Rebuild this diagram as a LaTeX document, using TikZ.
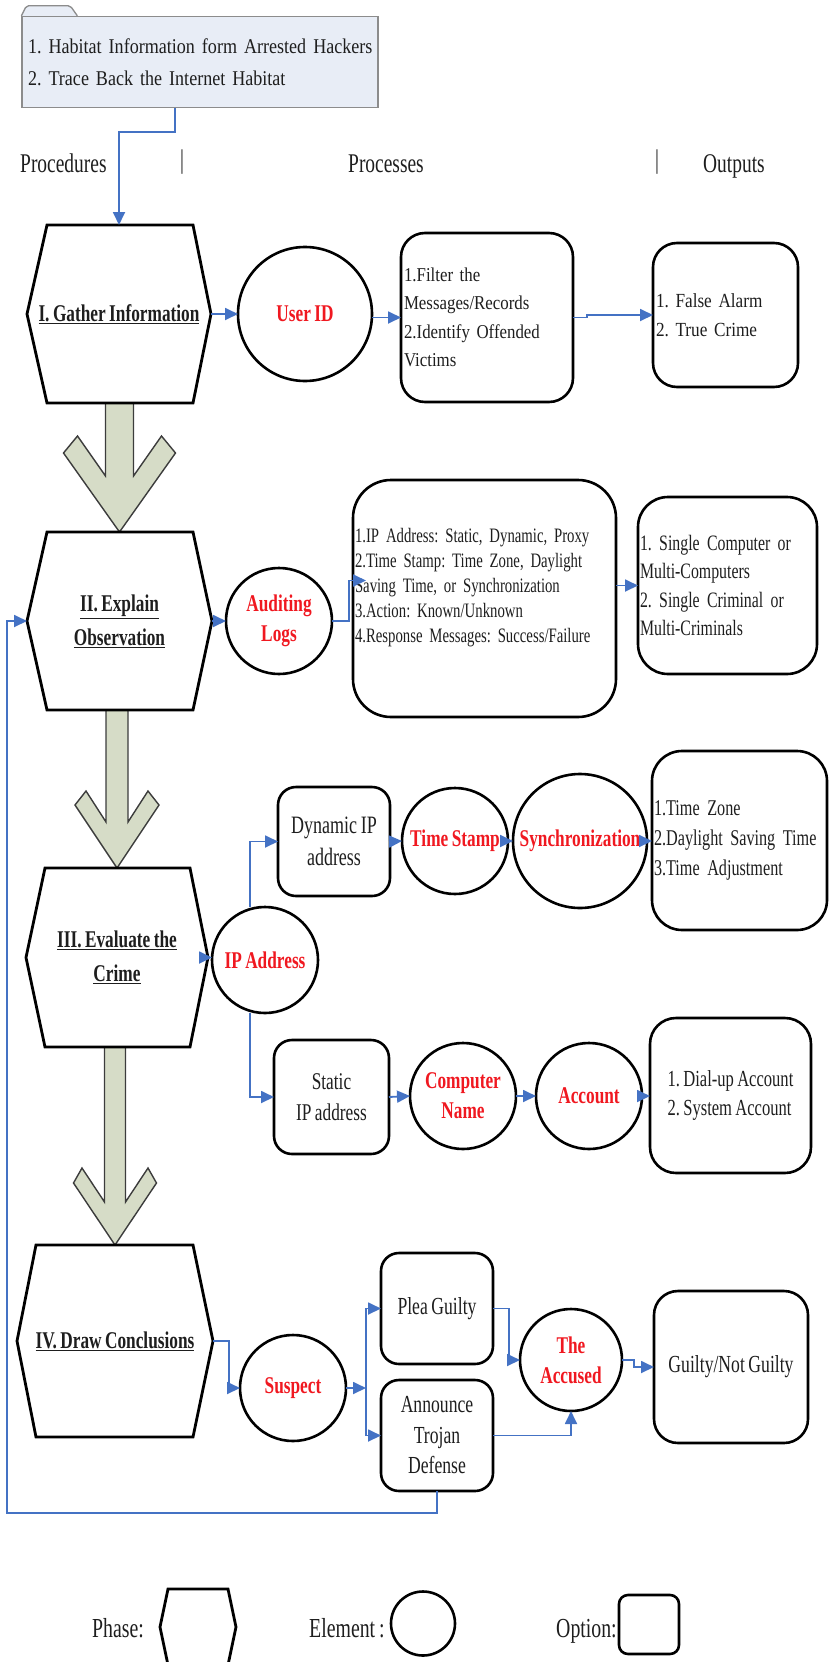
\documentclass[tikz,border=0pt]{standalone}
\usepackage{fontspec}
\setmainfont[FakeStretch=0.72,WordSpace=0.8]{Liberation Serif}
\newfontfamily\widefont[FakeStretch=0.86,WordSpace=0.85]{Liberation Serif}
\usetikzlibrary{arrows.meta,calc,backgrounds}

\definecolor{linkblue}{RGB}{68,114,196}
\definecolor{arrowfill}{RGB}{214,220,199}
\definecolor{arrowedge}{RGB}{60,60,60}
\definecolor{folderfill}{RGB}{232,237,246}
\definecolor{folderedge}{RGB}{140,140,140}
\definecolor{elemred}{RGB}{240,24,32}
\definecolor{inktext}{RGB}{30,30,30}

\newcommand\setfs[2]{\fontsize{#1}{#2}\selectfont}
% hexagonal phase outline around a (borderless) node
\newcommand\phasehex[3]{%
  \draw[phaseline] ([xshift=#2]#1.north west) -- ([xshift=-#3]#1.north east)
    -- (#1.east) -- ([xshift=-#3]#1.south east) -- ([xshift=#2]#1.south west)
    -- (#1.west) -- cycle;}

\tikzset{
  conn/.style={draw=linkblue, line width=1.8pt, -{Triangle[length=13pt,width=12pt]}},
  phasenode/.style={draw=none, inner sep=0pt, outer sep=0pt, align=center,
    text=inktext, font=\bfseries\setfs{24}{34}},
  phaseline/.style={draw=black, line width=2.8pt, fill=white, line join=miter},
  elemnode/.style={circle, draw=black, line width=2.6pt, inner sep=0pt, outer sep=0pt,
    align=center, text=elemred, font=\bfseries\setfs{24}{30}},
  optbox/.style={rectangle, draw=black, line width=2.6pt, inner sep=0pt, outer sep=0pt,
    text=inktext},
  blockarrow/.style={fill=arrowfill, draw=arrowedge, line width=1.4pt, line join=miter},
  header/.style={anchor=base west, inner sep=0pt, text=inktext, font=\setfs{27}{30}},
  legendtext/.style={anchor=base west, inner sep=0pt, text=inktext, font=\setfs{27.5}{30}},
}

\begin{document}
\frenchspacing
\begin{tikzpicture}[x=1pt,y=-1pt]
\useasboundingbox (0,0) rectangle (828,1662);

% ---- source note (folder) ----
\node[draw=folderedge, fill=folderfill, line width=1.3pt, minimum width=356pt,
  minimum height=91pt, text width=350pt, align=left, inner sep=0pt, text=inktext,
  font=\widefont\setfs{21}{32}] (folder) at (200,62)
  {\hspace*{3pt}1. Habitat Information form Arrested Hackers\\\hspace*{3pt}2. Trace Back the Internet Habitat};

% ---- column headers ----
\node[header] (hproc) at (20,172) {Procedures};
\node[header] (hbar1) at (180,168) {|};
\node[header] (hprocs) at (348,172) {Processes};
\node[header] (hbar2) at (655,168) {|};
\node[header] (hout) at (703,172) {Outputs};

% ---- phases ----
\node[phasenode, minimum width=184pt, minimum height=178pt] (h1) at (119,314)
  {\underline{I. Gather Information}};
\node[phasenode, minimum width=185pt, minimum height=178pt] (h2) at (119.5,621)
  {\underline{II. Explain}\\\underline{Observation}};
\node[phasenode, minimum width=182pt, minimum height=179pt] (h3) at (117,957.5)
  {\underline{III. Evaluate the}\\\underline{Crime}};
\node[phasenode, minimum width=196pt, minimum height=192pt, text depth=2pt] (h4) at (115,1341)
  {\underline{IV. Draw Conclusions}};

% ---- elements ----
\node[elemnode, minimum size=134pt] (uid) at (305,314) {User ID};
\node[elemnode, minimum size=106pt] (al) at (279,621) {Auditing\\Logs};
\node[elemnode, minimum size=106pt] (ip) at (265,960) {IP Address};
\node[elemnode, minimum size=106pt] (ts) at (455,841) {Time Stamp};
\node[elemnode, minimum size=134pt] (sync) at (580,841) {Synchronization};
\node[elemnode, minimum size=106pt] (cn) at (463,1096) {Computer\\Name};
\node[elemnode, minimum size=106pt] (acct) at (589,1096) {Account};
\node[elemnode, minimum size=106pt] (sus) at (293,1388) {Suspect};
\node[elemnode, minimum size=102pt] (accd) at (571,1360) {The\\Accused};

% ---- options ----
\node[optbox, rounded corners=24pt, minimum width=172pt, minimum height=169pt,
  text width=166pt, align=left, font=\widefont\setfs{19.6}{28.5}] (filt) at (487,317.5)
  {1.Filter the\\Messages/Records\\2.Identify Offended\\Victims};
\node[optbox, rounded corners=24pt, minimum width=145pt, minimum height=144pt,
  text width=139pt, align=left, font=\widefont\setfs{20}{29}] (alarm) at (725.5,315)
  {1. False Alarm\\2. True Crime};
\node[optbox, rounded corners=38pt, minimum width=263pt, minimum height=237pt,
  text width=259pt, text depth=127pt, align=left, font=\setfs{20.5}{25.2}] (logbox) at (484.5,598.5)
  {1.IP Address: Static, Dynamic, Proxy\\2.Time Stamp: Time Zone, Daylight\\Saving Time, or Synchronization\\3.Action: Known/Unknown\\4.Response Messages: Success/Failure};
\node[optbox, rounded corners=30pt, minimum width=179pt, minimum height=177pt,
  text width=175pt, align=left, font=\setfs{22}{28.5}] (multi) at (727.5,585.5)
  {1. Single Computer or\\Multi-Computers\\2. Single Criminal or\\Multi-Criminals};
\node[optbox, rounded corners=18pt, minimum width=112pt, minimum height=109pt,
  align=center, font=\setfs{25}{32}] (dyn) at (334,841.5) {Dynamic IP\\address};
\node[optbox, rounded corners=30pt, minimum width=175pt, minimum height=179pt,
  text width=171pt, align=left, font=\setfs{22.5}{30}] (tz) at (739.5,840.5)
  {1.Time Zone\\2.Daylight Saving Time\\3.Time Adjustment};
\node[optbox, rounded corners=18pt, minimum width=115pt, minimum height=114pt,
  align=center, font=\setfs{24}{31}] (stat) at (331.5,1097) {Static\\IP address};
\node[optbox, rounded corners=26pt, minimum width=161pt, minimum height=155pt,
  align=left, font=\setfs{23}{29}] (dial) at (730.5,1095.5)
  {1. Dial-up Account\\2. System Account};
\node[optbox, rounded corners=18pt, minimum width=112pt, minimum height=111pt,
  align=center, font=\setfs{24.5}{30.5}] (plea) at (437,1308.5) {Plea Guilty};
\node[optbox, rounded corners=18pt, minimum width=112pt, minimum height=111pt,
  align=center, font=\setfs{24.5}{30.5}] (ann) at (437,1435.5) {Announce\\Trojan\\Defense};
\node[optbox, rounded corners=24pt, minimum width=154pt, minimum height=152pt,
  align=center, font=\setfs{24.5}{30}] (guilty) at (731,1367) {Guilty/Not Guilty};

% ---- legend ----
\node[legendtext] (lphase) at (92,1637) {Phase:};
\node[phasenode, minimum width=76pt, minimum height=76pt] (lhex) at (198,1627) {};
\node[legendtext] (lelem) at (309,1637) {Element :};
\node[elemnode, minimum size=64pt] (lcirc) at (423,1623.5) {};
\node[legendtext] (lopt) at (556,1637) {Option:};
\node[optbox, rounded corners=9pt, minimum width=60pt, minimum height=59pt] (lbox) at (649,1624.5) {};

% ---- outlines and block arrows behind the labels ----
\begin{scope}[on background layer]
  \draw[draw=folderedge, fill=folderfill, line width=1.3pt, rounded corners=2pt]
    (folder.north west) -- ++(5pt,10pt) -- ++(44pt,0pt) -- ++(7pt,-10pt);
  \draw[blockarrow] let \p1=(h1.south), \p2=(h2.north) in
    (\x2-14pt,\y1+3pt) -- (\x2-14pt,\y2+56pt) -- (\x2-42pt,\y2+96pt) -- (\x2-56pt,\y2+79pt)
    -- (\x2,\y2) -- (\x2+56pt,\y2+79pt) -- (\x2+42pt,\y2+96pt) -- (\x2+14pt,\y2+56pt)
    -- (\x2+14pt,\y1+3pt) -- cycle;
  \draw[blockarrow] let \p1=(h2.south), \p2=(h3.north) in
    (\x2-11pt,\y1+3pt) -- (\x2-11pt,\y2+46pt) -- (\x2-31pt,\y2+77pt) -- (\x2-42pt,\y2+63pt)
    -- (\x2,\y2) -- (\x2+42pt,\y2+63pt) -- (\x2+31pt,\y2+77pt) -- (\x2+11pt,\y2+46pt)
    -- (\x2+11pt,\y1+3pt) -- cycle;
  \draw[blockarrow] let \p1=(h3.south), \p2=(h4.north) in
    (\x2-10.5pt,\y1+3pt) -- (\x2-10.5pt,\y2+43pt) -- (\x2-33pt,\y2+77pt) -- (\x2-41.5pt,\y2+62pt)
    -- (\x2,\y2) -- (\x2+41.5pt,\y2+62pt) -- (\x2+33pt,\y2+77pt) -- (\x2+10.5pt,\y2+43pt)
    -- (\x2+10.5pt,\y1+3pt) -- cycle;
  \phasehex{h1}{20pt}{18pt}
  \phasehex{h2}{20pt}{19pt}
  \phasehex{h3}{19pt}{18pt}
  \phasehex{h4}{19pt}{20pt}
  \phasehex{lhex}{8pt}{8pt}
\end{scope}

% ---- connectors ----
\draw[conn] ([xshift=-25pt]folder.south) -- ++(0pt,-24pt) -| (h1.north);
\draw[conn] (h1.east) -- (uid.west);
\draw[conn] (uid.east |- filt.west) -- (filt.west);
\draw[conn] (filt.east) -- ++(14pt,0pt) |- (alarm.west);

\draw[conn] (h2.east) -- (al.west);
\draw[conn] (al.east) -- ++(17pt,0pt) |- ([xshift=13pt,yshift=18pt]logbox.west);
\draw[conn] (logbox.east |- multi.west) -- (multi.west);

\draw[conn] (h3.east) -- (h3.east -| ip.west);
\draw[conn] ([xshift=-15pt]ip.north) |- (dyn.west);
\draw[conn] ([xshift=-15pt]ip.south) |- (stat.west);
\draw[conn] (dyn.east) -- (ts.west);
\draw[conn] (ts.east) -- (sync.west);
\draw[conn] (sync.east) -- (sync.east -| tz.west);
\draw[conn] (stat.east) -- (cn.west);
\draw[conn] (cn.east) -- (acct.west);
\draw[conn] (acct.east) -- (acct.east -| dial.west);

\coordinate (bus) at (366,1388);
\coordinate (fb) at (7,1513);
\draw[conn] (h4.east) -- ++(16pt,0pt) |- (sus.west);
\draw[conn] (sus.east) -- (bus);
\draw[conn] (bus) |- (plea.west);
\draw[conn] (bus) |- (ann.west);
\draw[conn] (plea.east) -- ++(16pt,0pt) |- (accd.west);
\draw[conn] (ann.east) -| (accd.south);
\draw[conn] (accd.east) -- ++(12pt,0pt) |- (guilty.west);
\draw[conn] (ann.south) |- (fb) |- (h2.west);

\end{tikzpicture}
\end{document}
